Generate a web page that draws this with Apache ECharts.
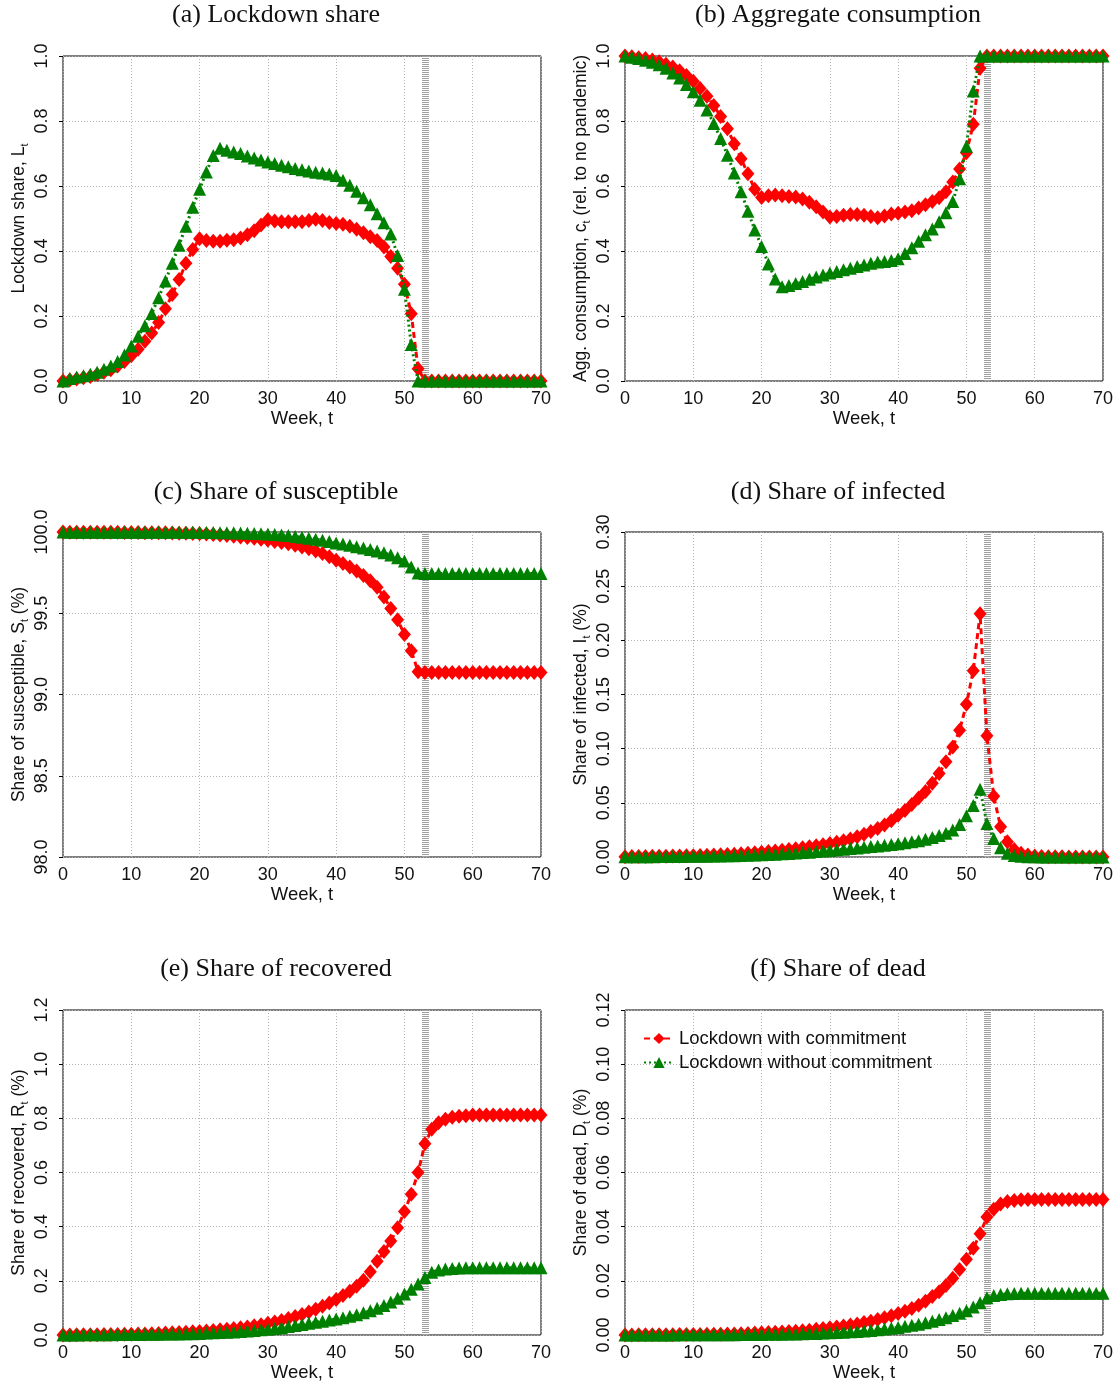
<!DOCTYPE html>
<html>
<head>
<meta charset="utf-8">
<title>Lockdown with and without commitment</title>
<script src="https://cdn.jsdelivr.net/npm/echarts@6/dist/echarts.min.js"></script>
<style>
  html, body { margin: 0; padding: 0; background: #fff; }
  #chart { width: 1119px; height: 1386px; }
</style>
</head>
<body>
<div id="chart"></div>
<script>
// weeks 0..70
const weeks = [0,1,2,3,4,5,6,7,8,9,10,11,12,13,14,15,16,17,18,19,20,21,22,23,24,25,26,27,28,29,30,
  31,32,33,34,35,36,37,38,39,40,41,42,43,44,45,46,47,48,49,50,51,52,53,54,55,56,57,58,59,60,
  61,62,63,64,65,66,67,68,69,70]

const seriesNames = ["Lockdown with commitment", "Lockdown without commitment"]

// (a) lockdown share
const lockCommit = [0.000,0.003,0.006,0.010,0.014,0.020,0.027,0.035,0.046,0.060,0.078,0.098,0.122,0.148,0.180,
  0.222,0.266,0.312,0.362,0.405,0.438,0.432,0.430,0.430,0.433,0.435,0.440,0.450,0.462,0.480,0.496,
  0.492,0.490,0.490,0.490,0.490,0.494,0.498,0.494,0.488,0.485,0.482,0.476,0.467,0.456,0.444,0.432,
  0.412,0.383,0.347,0.298,0.207,0.038,0,0,0,0,0,0,0,0,0,0,0,0,0,0,0,0,0,0]
const lockNoCommit = [0.000,0.008,0.012,0.016,0.021,0.027,0.036,0.046,0.060,0.080,0.108,0.138,0.170,0.208,0.256,
  0.308,0.362,0.418,0.476,0.535,0.590,0.643,0.694,0.716,0.710,0.705,0.700,0.692,0.686,0.680,0.674,
  0.669,0.664,0.659,0.654,0.650,0.646,0.642,0.640,0.637,0.632,0.618,0.602,0.584,0.564,0.542,0.515,
  0.487,0.452,0.386,0.282,0.112,0,0,0,0,0,0,0,0,0,0,0,0,0,0,0,0,0,0,0]

// (b) aggregate consumption
const consCommit = [1.000,0.998,0.995,0.992,0.988,0.982,0.975,0.966,0.955,0.940,0.922,0.900,0.876,0.848,0.814,
  0.776,0.730,0.684,0.638,0.590,0.565,0.570,0.572,0.570,0.568,0.566,0.560,0.550,0.536,0.520,0.505,
  0.506,0.510,0.512,0.512,0.510,0.506,0.502,0.508,0.514,0.516,0.520,0.524,0.532,0.542,0.552,0.564,
  0.582,0.612,0.652,0.702,0.790,0.962,1,1,1,1,1,1,1,1,1,1,1,1,1,1,1,1,1,1]
const consNoCommit = [1.000,0.996,0.992,0.987,0.981,0.973,0.962,0.948,0.932,0.912,0.890,0.864,0.834,0.792,0.746,
  0.695,0.640,0.582,0.522,0.465,0.414,0.360,0.314,0.290,0.294,0.300,0.306,0.313,0.320,0.326,0.332,
  0.337,0.342,0.347,0.352,0.357,0.362,0.366,0.368,0.371,0.376,0.392,0.410,0.430,0.450,0.468,0.490,
  0.518,0.552,0.622,0.722,0.892,1,1,1,1,1,1,1,1,1,1,1,1,1,1,1,1,1,1,1]

// (c) susceptible (%)
const suscCommit = [100.000,99.999,99.999,99.999,99.999,99.998,99.998,99.998,99.998,99.997,99.997,99.997,99.996,
  99.996,99.995,99.995,99.994,99.993,99.992,99.991,99.990,99.988,99.985,99.982,99.978,99.974,99.970,
  99.966,99.961,99.955,99.949,99.942,99.935,99.927,99.918,99.908,99.897,99.883,99.867,99.848,99.826,
  99.806,99.785,99.760,99.733,99.700,99.660,99.600,99.530,99.460,99.370,99.270,99.140,99.135,99.135,
  99.135,99.135,99.135,99.135,99.135,99.135,99.135,99.135,99.135,99.135,99.135,99.135,99.135,99.135,
  99.135,99.135]
const suscNoCommit = [100.000,99.999,99.999,99.999,99.999,99.999,99.999,99.999,99.999,99.999,99.999,99.998,99.998,
  99.998,99.998,99.998,99.998,99.998,99.998,99.998,99.998,99.997,99.997,99.996,99.996,99.995,99.994,
  99.993,99.991,99.990,99.988,99.985,99.982,99.978,99.973,99.967,99.962,99.956,99.949,99.941,99.933,
  99.926,99.918,99.910,99.902,99.893,99.883,99.872,99.858,99.842,99.822,99.785,99.748,99.745,99.745,
  99.745,99.745,99.745,99.745,99.745,99.745,99.745,99.745,99.745,99.745,99.745,99.745,99.745,99.745,
  99.745,99.745]

// (d) infected (%)
const infCommit = [0.0003,0.0004,0.0004,0.0005,0.0006,0.0007,0.0008,0.0009,0.0010,0.0011,0.0012,0.0014,0.0016,
  0.0018,0.0020,0.0023,0.0026,0.0030,0.0034,0.0040,0.0045,0.0050,0.0056,0.0062,0.0069,0.0077,0.0085,
  0.0094,0.0104,0.0114,0.0125,0.0137,0.0151,0.0167,0.0186,0.0210,0.0235,0.0262,0.0295,0.0335,0.0385,
  0.0430,0.0485,0.0545,0.0605,0.0680,0.0770,0.0880,0.1015,0.1170,0.1410,0.1720,0.2245,0.1120,0.0560,
  0.0280,0.0140,0.0070,0.0035,0.0018,0.0009,0.0005,0.0003,0.0002,0.0002,0.0001,0.0001,0.0001,0.0001,
  0.0001,0.0001]
const infNoCommit = [0.0002,0.0002,0.0003,0.0003,0.0003,0.0004,0.0004,0.0005,0.0005,0.0006,0.0006,0.0007,0.0008,
  0.0009,0.0010,0.0011,0.0012,0.0014,0.0016,0.0018,0.0020,0.0023,0.0026,0.0029,0.0033,0.0037,0.0041,
  0.0045,0.0050,0.0055,0.0060,0.0066,0.0072,0.0078,0.0084,0.0090,0.0096,0.0102,0.0109,0.0116,0.0123,
  0.0131,0.0140,0.0151,0.0164,0.0180,0.0198,0.0220,0.0250,0.0300,0.0380,0.0475,0.0625,0.0310,0.0170,
  0.0085,0.0035,0.0015,0.0006,0.0003,0.0002,0.0001,0.0001,0.0001,0.0001,0.0001,0.0001,0.0001,0.0001,
  0.0001,0.0001]

// (e) recovered (%)
const recCommit = [0.000,0.000,0.001,0.001,0.001,0.001,0.002,0.002,0.002,0.003,0.003,0.004,0.004,0.005,0.006,
  0.007,0.008,0.009,0.010,0.012,0.013,0.015,0.017,0.019,0.021,0.024,0.027,0.030,0.034,0.038,0.043,
  0.048,0.054,0.061,0.068,0.076,0.085,0.095,0.106,0.118,0.131,0.146,0.162,0.180,0.202,0.234,0.272,
  0.308,0.347,0.396,0.456,0.520,0.600,0.706,0.760,0.784,0.797,0.804,0.808,0.810,0.812,0.812,0.812,
  0.812,0.812,0.812,0.812,0.812,0.812,0.812,0.812]
const recNoCommit = [0.000,0.000,0.000,0.001,0.001,0.001,0.001,0.001,0.002,0.002,0.002,0.002,0.003,0.003,0.003,
  0.004,0.004,0.004,0.005,0.005,0.006,0.007,0.008,0.009,0.010,0.011,0.013,0.015,0.017,0.019,0.021,
  0.024,0.027,0.031,0.035,0.039,0.043,0.047,0.051,0.055,0.059,0.064,0.069,0.075,0.082,0.090,0.099,
  0.109,0.122,0.136,0.151,0.169,0.188,0.212,0.232,0.240,0.244,0.246,0.247,0.248,0.248,0.248,0.248,
  0.248,0.248,0.248,0.248,0.248,0.248,0.248,0.248]

// (f) dead (%)
const deadCommit = [0.0000,0.0000,0.0001,0.0001,0.0001,0.0001,0.0001,0.0001,0.0002,0.0002,0.0002,0.0002,0.0003,
  0.0003,0.0003,0.0004,0.0004,0.0005,0.0006,0.0007,0.0008,0.0009,0.0010,0.0011,0.0013,0.0014,0.0016,
  0.0018,0.0021,0.0024,0.0027,0.0030,0.0033,0.0037,0.0041,0.0046,0.0051,0.0057,0.0064,0.0071,0.0079,
  0.0088,0.0098,0.0110,0.0125,0.0142,0.0160,0.0183,0.0210,0.0242,0.0280,0.0320,0.0374,0.0436,0.0464,
  0.0484,0.0493,0.0497,0.0499,0.0500,0.0500,0.0500,0.0500,0.0500,0.0500,0.0500,0.0500,0.0500,0.0500,
  0.0500,0.0500]
const deadNoCommit = [0.0000,0.0000,0.0000,0.0000,0.0000,0.0000,0.0000,0.0000,0.0001,0.0001,0.0001,0.0001,0.0001,
  0.0001,0.0001,0.0001,0.0001,0.0002,0.0002,0.0002,0.0002,0.0003,0.0003,0.0003,0.0004,0.0004,0.0005,
  0.0006,0.0006,0.0007,0.0008,0.0009,0.0010,0.0012,0.0013,0.0015,0.0017,0.0019,0.0022,0.0025,0.0028,
  0.0032,0.0036,0.0040,0.0045,0.0051,0.0057,0.0064,0.0072,0.0080,0.0090,0.0103,0.0119,0.0138,0.0146,
  0.0150,0.0152,0.0153,0.0154,0.0154,0.0154,0.0154,0.0154,0.0154,0.0154,0.0154,0.0154,0.0154,0.0154,
  0.0154,0.0154]

const endOfPolicyWeek = 53

const sans = "'Liberation Sans', Arial, sans-serif"
const serif = "'Liberation Serif', 'DejaVu Serif', serif"

const panels = [
  { title: "(a) Lockdown share", yName: "Lockdown share, L{s|t}", min: 0, max: 1, step: 0.2, dec: 1,
    a: lockCommit, b: lockNoCommit },
  { title: "(b) Aggregate consumption", yName: "Agg. consumption, c{s|t} (rel. to no pandemic)", min: 0, max: 1, step: 0.2, dec: 1,
    a: consCommit, b: consNoCommit },
  { title: "(c) Share of susceptible", yName: "Share of susceptible, S{s|t} (%)", min: 98, max: 100, step: 0.5, dec: 1,
    a: suscCommit, b: suscNoCommit },
  { title: "(d) Share of infected", yName: "Share of infected, I{s|t} (%)", min: 0, max: 0.3, step: 0.05, dec: 2,
    a: infCommit, b: infNoCommit },
  { title: "(e) Share of recovered", yName: "Share of recovered, R{s|t} (%)", min: 0, max: 1.2, step: 0.2, dec: 1,
    a: recCommit, b: recNoCommit },
  { title: "(f) Share of dead", yName: "Share of dead, D{s|t} (%)", min: 0, max: 0.12, step: 0.02, dec: 2,
    a: deadCommit, b: deadNoCommit },
]

const gridLefts = [63, 625]
const gridTops = [56, 532, 1010]
const titleX = [276, 838]
const titleY = [15, 492, 969]

const pairs = vals => weeks.map((w, i) => [w, vals[i]])
const dotted = { color: "#b4b4b4", type: [1, 2], width: 1 }

const grid = [], xAxis = [], yAxis = [], series = [], graphic = []

panels.forEach((p, i) => {
  const col = i % 2, row = Math.floor(i / 2)
  grid.push({
    left: gridLefts[col], top: gridTops[row], width: 478, height: 325,
    show: true, borderColor: "#000", borderWidth: 1, backgroundColor: "transparent",
  })
  xAxis.push({
    type: "value", gridIndex: i, min: 0, max: 70, interval: 10,
    name: "Week, t", nameLocation: "middle", nameGap: 28,
    nameTextStyle: { fontFamily: sans, fontSize: 18.5, color: "#111" },
    axisLine: { show: false }, axisTick: { show: false },
    axisLabel: { fontFamily: sans, fontSize: 18, color: "#111", margin: 9 },
    splitLine: { show: true, lineStyle: dotted },
  })
  yAxis.push({
    type: "value", gridIndex: i, min: p.min, max: p.max, interval: p.step,
    name: p.yName, nameLocation: "middle", nameGap: 33,
    nameTextStyle: {
      fontFamily: sans, fontSize: 17.5, color: "#111", lineHeight: 21,
      rich: { s: { fontFamily: sans, fontSize: 11, color: "#111", verticalAlign: "bottom" } },
    },
    axisLine: { show: false },
    axisTick: { show: true, length: 4, lineStyle: { color: "#000" } },
    axisLabel: {
      fontFamily: sans, fontSize: 18, color: "#111", rotate: 90, margin: 12,
      formatter: v => v.toFixed(p.dec),
    },
    splitLine: { show: true, lineStyle: dotted },
  })
  // end-of-policy marker, kept behind the data series
  series.push({
    type: "line", xAxisIndex: i, yAxisIndex: i, data: [], z: 1,
    markLine: {
      z: 1, silent: true, symbol: "none", label: { show: false },
      lineStyle: { color: "#a0a0a0", width: 7, type: [1, 1] },
      emphasis: { disabled: true },
      data: [{ xAxis: endOfPolicyWeek }],
    },
  })
  series.push({
    name: seriesNames[0], type: "line", xAxisIndex: i, yAxisIndex: i, z: 3,
    data: pairs(p.a), color: "#ff0000",
    symbol: "diamond", symbolSize: [13, 15],
    lineStyle: { width: 3, type: [6, 4] },
  })
  series.push({
    name: seriesNames[1], type: "line", xAxisIndex: i, yAxisIndex: i, z: 4,
    data: pairs(p.b), color: "#008000",
    symbol: "triangle", symbolSize: 13,
    lineStyle: { width: 3, type: [2, 3] },
  })
  graphic.push({
    type: "text", x: titleX[col], y: titleY[row],
    style: { text: p.title, fontFamily: serif, fontSize: 26, fill: "#111", align: "center", verticalAlign: "middle" },
  })
})

const chart = echarts.init(document.getElementById("chart"))
chart.setOption({
  animation: false,
  backgroundColor: "#fff",
  grid, xAxis, yAxis, series, graphic,
  legend: {
    data: seriesNames, orient: "vertical", left: 638, top: 1024,
    itemGap: 5, itemWidth: 30, itemHeight: 14,
    textStyle: { fontFamily: sans, fontSize: 18.5, color: "#111" },
  },
})
</script>
</body>
</html>
